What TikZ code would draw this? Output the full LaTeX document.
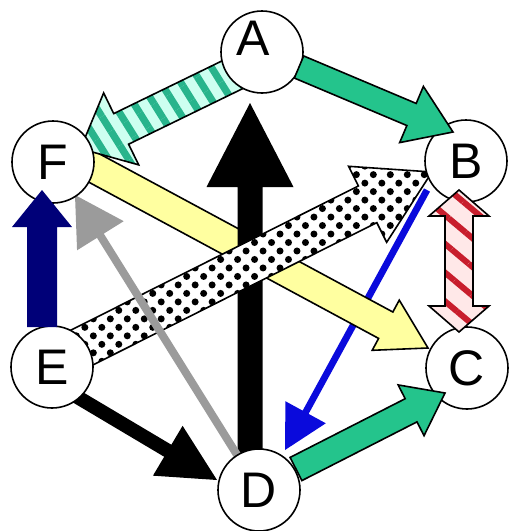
\documentclass[tikz,border=0pt]{standalone}
\usepackage{fontspec}
\setmainfont{Liberation Sans}
\usetikzlibrary{calc,patterns.meta,backgrounds}
\definecolor{grn}{RGB}{36,196,140}
\definecolor{tealstr}{RGB}{40,180,140}
\definecolor{cyanbg}{RGB}{205,255,240}
\definecolor{ylw}{RGB}{255,255,160}
\definecolor{navyc}{RGB}{0,0,120}
\definecolor{bluec}{RGB}{10,10,220}
\definecolor{grayc}{RGB}{155,155,155}
\definecolor{redstr}{RGB}{200,30,45}
\definecolor{pinkbg}{RGB}{255,232,232}

% #1 style, #2 tail, #3 tip, #4 half shaft width, #5 half head width, #6 head length
\newcommand\blockarrow[6]{%
  \draw[#1] let \p1=(#2), \p2=(#3),
    \n1={atan2(\y2-\y1,\x2-\x1)}, \n2={veclen(\x2-\x1,\y2-\y1)} in
    ($(\p1)+(\n1+90:#4)$) -- ($(\p1)+(\n1:\n2-#6)+(\n1+90:#4)$) --
    ($(\p1)+(\n1:\n2-#6)+(\n1+90:#5)$) -- (\p2) --
    ($(\p1)+(\n1:\n2-#6)+(\n1-90:#5)$) -- ($(\p1)+(\n1:\n2-#6)+(\n1-90:#4)$) --
    ($(\p1)+(\n1-90:#4)$) -- cycle;}
% double headed
\newcommand\dblblockarrow[6]{%
  \draw[#1] let \p1=(#2), \p2=(#3),
    \n1={atan2(\y2-\y1,\x2-\x1)}, \n2={veclen(\x2-\x1,\y2-\y1)} in
    ($(\p1)+(\n1:#6)+(\n1+90:#4)$) -- ($(\p1)+(\n1:\n2-#6)+(\n1+90:#4)$) --
    ($(\p1)+(\n1:\n2-#6)+(\n1+90:#5)$) -- (\p2) --
    ($(\p1)+(\n1:\n2-#6)+(\n1-90:#5)$) -- ($(\p1)+(\n1:\n2-#6)+(\n1-90:#4)$) --
    ($(\p1)+(\n1:#6)+(\n1-90:#4)$) -- ($(\p1)+(\n1:#6)+(\n1-90:#5)$) --
    (\p1) -- ($(\p1)+(\n1:#6)+(\n1+90:#5)$) -- cycle;}

\begin{document}
\begin{tikzpicture}[x=0.5pt,y=-0.5pt,
  vert/.style={circle,draw=black,line width=0.8pt,fill=white,minimum size=41pt,inner sep=0pt,
    font=\fontsize{25}{25}\selectfont},
  lettr/.style={inner sep=0pt,font=\fontsize{25}{25}\selectfont},
  outl/.style={draw=black,line width=0.8pt,line join=miter},
  greenarrow/.style={outl,fill=grn},
  tealhatch/.style={outl,preaction={fill=cyanbg},pattern={Lines[angle=-58,distance=8.5pt,line width=3.6pt]},pattern color=tealstr},
  redhatch/.style={outl,preaction={fill=pinkbg},pattern={Lines[angle=-40,distance=11pt,line width=3pt]},pattern color=redstr},
  dotfill/.style={outl,preaction={fill=white},pattern={Dots[angle=45,distance=6pt,radius=1.75pt]},pattern color=black},
  yellowarrow/.style={outl,fill=ylw},
  solidarrow/.style={draw=none,fill=#1}]
\useasboundingbox (0,0) rectangle (510,531);

% nodes
\node[vert] (A) at (262,52) {};
\node[lettr] (Alab) at (253,38) {A};
\node[vert] (B) at (466,161) {B};
\node[vert] (C) at (467,368) {C};
\node[vert] (D) at (259,490) {D};
\node[vert] (E) at (52,367) {E};
\node[vert] (F) at (53,162) {F};

% arrow end points
\coordinate (ab1) at ($(A)+(37,15)$);   \coordinate (ab2) at ($(B)+(-13,-29)$);
\coordinate (af1) at ($(A)+(-25,20.5)$);\coordinate (af2) at ($(F)+(27.5,-13.3)$);
\coordinate (da1) at ($(D)+(-9,-30)$);  \coordinate (da2) at ($(A)+(-12,51)$);
\coordinate (fc1) at ($(F)+(30,0)$);    \coordinate (fc2) at ($(C)+(-39,-20)$);
\coordinate (eb1) at ($(E)+(25,-17)$);  \coordinate (eb2) at ($(B)+(-34,11)$);
\coordinate (bd1) at ($(B)+(-39,29)$);  \coordinate (bd2) at ($(D)+(26,-40)$);
\coordinate (bc1) at ($(B)+(-7,29)$);   \coordinate (bc2) at ($(C)+(-8,-36)$);
\coordinate (ef1) at ($(E)+(-10,-40)$); \coordinate (ef2) at ($(F)+(-11,28)$);
\coordinate (df1) at ($(D)+(-20,-32)$); \coordinate (df2) at ($(F)+(22,33)$);
\coordinate (ed1) at ($(E)+(22,28)$);   \coordinate (ed2) at ($(D)+(-42,-10)$);
\coordinate (dc1) at ($(D)+(37,-21)$);  \coordinate (dc2) at ($(C)+(-22,25)$);

\begin{pgfonlayer}{background}
  \blockarrow{solidarrow=bluec}{bd1}{bd2}{1.7pt}{11.5pt}{21.5pt}
  \blockarrow{yellowarrow}{fc1}{fc2}{7.5pt}{14.25pt}{24pt}
  \blockarrow{solidarrow=black}{da1}{da2}{6.25pt}{21.75pt}{42pt}
  \blockarrow{dotfill}{eb1}{eb2}{10.25pt}{21.25pt}{36pt}
  \blockarrow{solidarrow=grayc}{df1}{df2}{2pt}{13.75pt}{24pt}
  \blockarrow{tealhatch}{af1}{af2}{8.5pt}{20pt}{22.5pt}
  \blockarrow{solidarrow=black}{ed1}{ed2}{3.5pt}{14.5pt}{28.5pt}
\end{pgfonlayer}

% arrows above the circles
\blockarrow{greenarrow}{ab1}{ab2}{6pt}{15.25pt}{22.5pt}
\blockarrow{greenarrow}{dc1}{dc2}{6.5pt}{14.25pt}{19pt}
\dblblockarrow{redhatch}{bc1}{bc2}{7pt}{15pt}{13pt}
\blockarrow{solidarrow=navyc}{ef1}{ef2}{7.5pt}{15pt}{18.5pt}
\end{tikzpicture}
\end{document}
